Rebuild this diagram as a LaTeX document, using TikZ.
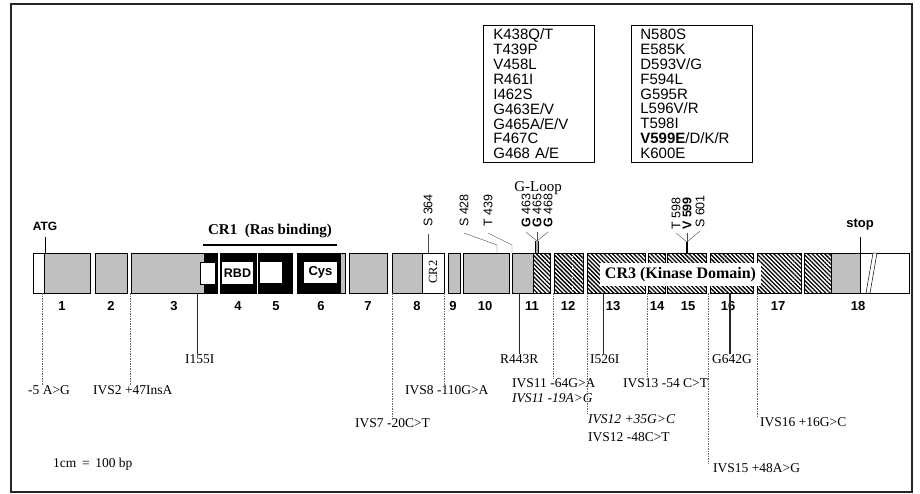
\documentclass[tikz,border=0pt]{standalone}
\usepackage{fontspec}
\setmainfont{Liberation Serif}
\setsansfont{Liberation Sans}
\usetikzlibrary{patterns.meta}
\definecolor{exongray}{RGB}{192,192,192}

\begin{document}
\begin{tikzpicture}[x=1pt,y=-1pt,
   exon/.style={draw,line width=0.6pt,fill=exongray},
   hatch/.style={draw,line width=0.6pt,pattern={Lines[angle=-45,distance=3pt,line width=1.3pt]}},
   blk/.style={draw,fill=black},
   inbox/.style={fill=white,inner sep=0pt,font=\sffamily\bfseries\fontsize{12.5}{12.5}\selectfont},
   num/.style={font=\sffamily\bfseries\fontsize{13}{13}\selectfont},
   site/.style={font=\sffamily\fontsize{12.5}{12.5}\selectfont,rotate=90,anchor=west,inner sep=0pt},
   mut/.style={font=\fontsize{13.5}{14}\selectfont,anchor=west,inner sep=0pt},
   dashlink/.style={black!60,line width=0.5pt,dash pattern=on 1.5pt off 1pt},
   solidlink/.style={black!85,line width=0.7pt},
   listbox/.style={draw,line width=0.7pt,anchor=north west,align=left,minimum height=137pt,inner ysep=0pt,font=\sffamily\fontsize{15}{14.9}\selectfont}]
   \useasboundingbox (0,0) rectangle (920,494);
   \draw[line width=1.8pt,black!85] (11,4) rectangle (912,492);

   \node[listbox,text width=91pt,inner xsep=10pt] (boxa) at (483,25) {K438Q/T\\T439P\\V458L\\R461I\\I462S\\G463E/V\\G465A/E/V\\F467C\\G468 A/E};
   \node[listbox,text width=103pt,inner xsep=9pt] (boxb) at (631,25) {N580S\\E585K\\D593V/G\\F594L\\G595R\\L596V/R\\T598I\\\textbf{V599E}/D/K/R\\K600E};

   \draw[draw,fill=white,line width=0.6pt] (33,253) rectangle (90,293);
   \draw[exon] (44,253) rectangle (90,293);
   \foreach \a/\b in {95/127,131/217,349/387,392/444,448/460,463/509,512/533}
      \draw[exon] (\a,253) rectangle (\b,293);
   \foreach \a/\b in {533/550,554/583,587/645,648/665,667/706,710/753,757/801,804/831}
      \draw[hatch] (\a,253) rectangle (\b,293);
   \draw[white,line width=1pt,dotted] (572,256) -- (572,291);
   \draw[exon] (831,253) rectangle (860,293);
   \draw[line width=0.6pt,fill=white] (860,253) rectangle (909,293);
   \draw[line width=0.5pt,fill=white] (866,293) -- (873,253) -- (877,253) -- (870,293) -- cycle;

   \draw[blk] (204,253) rectangle (217,293);
   \draw[line width=0.4pt,fill=white] (200,262) rectangle (215,284);
   \draw[blk] (220,253) rectangle (256,293);
   \node[inbox,minimum width=31pt,minimum height=22pt] (rbd) at (237.5,273) {RBD};
   \draw[blk] (258,253) rectangle (292,293);
   \fill[white] (260,262) rectangle (282,283);
   \draw[blk] (297,253) rectangle (340,293);
   \draw[exon] (340,253) rectangle (345,293);
   \node[inbox,minimum width=33pt,minimum height=21pt,font=\sffamily\bfseries\fontsize{13}{13}\selectfont] (cys) at (320.5,272.5) {Cys};
   \draw[line width=0.6pt,fill=white] (422,253) rectangle (444,293);
   \node[rotate=90,inner sep=0pt,font=\fontsize{12.5}{12.5}\selectfont] (cr2) at (433,272) {CR2};

   \node[font=\bfseries\fontsize{15}{15}\selectfont] (cr1) at (270,231) {CR1~~(Ras binding)};
   \draw[line width=2pt] (203,245) -- (337,245);
   \node[fill=white,minimum width=161pt,minimum height=23pt,inner sep=0pt,font=\bfseries\fontsize{16}{16}\selectfont] (cr3) at (680.5,274.5) {CR3 (Kinase Domain)};

   \node[font=\sffamily\bfseries\fontsize{12}{12}\selectfont] (atg) at (45,226) {ATG};
   \draw[line width=0.6pt] ([yshift=-3pt]atg.south) -- (atg.south |- 0,253);
   \node[font=\sffamily\bfseries\fontsize{13}{13}\selectfont] (stop) at (860,225) {stop};
   \draw[line width=0.8pt] ([yshift=-3pt]stop.south) -- (stop.south |- 0,293);

   \coordinate (etop10) at (497,253);
   \coordinate (etop11) at (512,253);
   \node[site] (s364) at (428,227) {S 364};
   \draw[black!70] ([yshift=-7pt]s364.west) -- (s364.west |- 0,253);
   \node[site] (s428) at (464,227) {S 428};
   \node[site] (t439) at (488,227) {T 439};
   \draw[black!70] ([yshift=-6pt]s428.west) -- ([yshift=8pt]etop10) -- (etop10);
   \draw[black!70] ([yshift=-6pt]t439.west) -- ([yshift=8pt]etop11) -- (etop11);

   \node[font=\fontsize{15}{15}\selectfont] (gloop) at (538,188) {G-Loop};
   \node[site] (g463) at (526,228) {\textbf{G} 463};
   \node[site] (g465) at (537,228) {\textbf{G} 465};
   \node[site] (g468) at (548,228) {\textbf{G} 468};
   \coordinate (gfork) at (537,241);
   \coordinate (gbase) at (537,253);
   \foreach \g in {g463,g465,g468}
      \draw[black!70] ([yshift=-4pt]\g.west) -- (gfork);
   \draw[line width=3.4pt] (gfork) -- (gbase);
   \draw[line width=2pt,gray!70] (gfork) -- (gbase);

   \node[site] (t598) at (676,230) {T 598};
   \node[site,font=\sffamily\bfseries\fontsize{12.5}{12.5}\selectfont] (v599) at (687,230) {V 599};
   \node[site] (s601) at (700,228) {S 601};
   \coordinate (kfork) at (687,242);
   \coordinate (kbase) at (687,253);
   \foreach \k in {t598,v599,s601}
      \draw[black!70] ([yshift=-3pt]\k.west) -- (kfork);
   \draw[line width=2pt] (kfork) -- (kbase);

   \foreach \x/\n in {62/1,111/2,174/3,238/4,276/5,321/6,368/7,417/8,453/9,485/10,532/11,568/12,613/13,657/14,688/15,728/16,778/17,858/18}
      \node[num] (n\n) at (\x,306) {\n};

   \node[mut] (m1) at (28,390) {-5 A>G};
   \node[mut] (m2) at (93,390) {IVS2 +47InsA};
   \node[mut] (m3) at (185,359) {I155I};
   \node[mut] (m4) at (355,423) {IVS7 -20C>T};
   \node[mut] (m5) at (405,390) {IVS8 -110G>A};
   \node[mut] (m6) at (500,359) {R443R};
   \node[mut] (m7) at (512,383) {IVS11 -64G>A};
   \node[mut,font=\itshape\fontsize{13.5}{14}\selectfont] (m8) at (512,398) {IVS11 -19A>G};
   \node[mut,font=\itshape\fontsize{13.5}{14}\selectfont] (m9) at (588,419) {IVS12 +35G>C};
   \node[mut] (m10) at (588,437) {IVS12 -48C>T};
   \node[mut] (m11) at (590,359) {I526I};
   \node[mut] (m12) at (623,383) {IVS13 -54 C>T};
   \node[mut] (m13) at (713,468) {IVS15 +48A>G};
   \node[mut] (m14) at (712,359) {G642G};
   \node[mut] (m15) at (760,422) {IVS16 +16G>C};
   \node[mut] (scale) at (53,464) {1cm \,=\, 100 bp};

   \foreach \x/\m in {42/m1,130/m2,392/m4,444/m5,553/m7,587/m9,647/m12,708/m13,757/m15} {
      \coordinate (b\m) at (\x,293);
      \draw[dashlink] (b\m) -- (b\m |- \m.north);
   }
   \foreach \x/\m in {197/m3,519/m6,603/m11} {
      \coordinate (b\m) at (\x,293);
      \draw[solidlink] (b\m) -- (b\m |- \m.north);
   }
   \coordinate (bm14) at (730,293);
   \draw[solidlink,line width=1.6pt] (bm14) -- (bm14 |- m14.north);
\end{tikzpicture}
\end{document}
